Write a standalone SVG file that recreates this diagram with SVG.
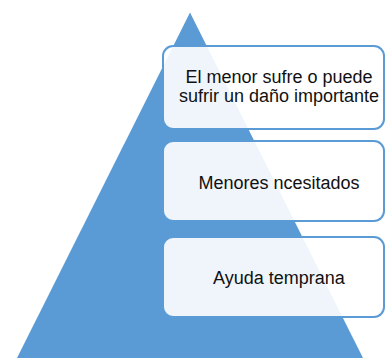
<svg xmlns="http://www.w3.org/2000/svg" width="386" height="358" viewBox="0 0 386 358">
  <style>
    .box { fill: #ffffff; fill-opacity: 0.9; stroke: #5B9BD5; stroke-width: 2; }
    .lbl { font-family: "Liberation Sans", Arial, sans-serif; font-size: 18px; fill: #111111; text-anchor: middle; }
  </style>
  <rect width="386" height="358" fill="#ffffff"/>
  <g id="pyramid">
    <polygon points="190,12.5 16,360 364,360" fill="#5B9BD5"/>
  </g>
  <g id="connectors"></g>
  <g id="node1">
    <rect class="box" x="163" y="46" width="221" height="83" rx="10" ry="10"/>
    <text class="lbl" x="279" y="83">El menor sufre o puede</text>
    <text class="lbl" x="279" y="102">sufrir un daño importante</text>
  </g>
  <g id="node2">
    <rect class="box" x="163" y="141" width="221" height="80" rx="10" ry="10"/>
    <text class="lbl" x="279" y="189">Menores ncesitados</text>
  </g>
  <g id="node3">
    <rect class="box" x="163" y="237" width="221" height="80" rx="10" ry="10"/>
    <text class="lbl" x="279" y="284">Ayuda temprana</text>
  </g>
</svg>
